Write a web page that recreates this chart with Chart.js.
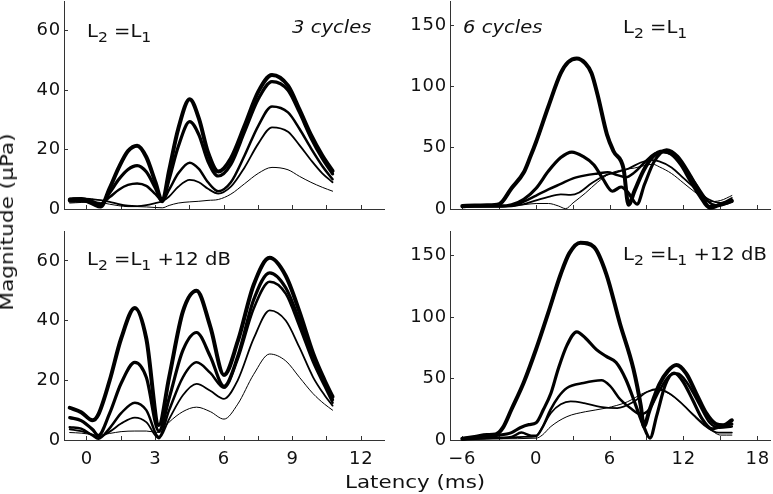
<!DOCTYPE html>
<html>
<head>
<meta charset="utf-8">
<script src="https://cdn.jsdelivr.net/npm/chart.js@4.4.1/dist/chart.umd.min.js"></script>
<style>
  body { margin: 0; background: #fff; }
  #wrap { position: relative; width: 773px; height: 494px; overflow: hidden; }
  canvas { position: absolute; left: 0; top: 0; }
  .t { position: absolute; font-family: 'DejaVu Sans'; color: #111; white-space: nowrap; transform-origin: 0 0; }
  .ann { font-size: 17px; line-height: 17px; transform: scaleX(1.15); }
  .ann sub { font-size: 0.8em; position: relative; top: 0.35em; vertical-align: baseline; }
  .ann i { font-style: italic; }
  .title { font-size: 18px; line-height: 18px; }
</style>
</head>
<body>
<div id="wrap">
  <canvas id="tl" width="773" height="494"></canvas>
  <canvas id="tr" width="773" height="494"></canvas>
  <canvas id="bl" width="773" height="494"></canvas>
  <canvas id="br" width="773" height="494"></canvas>

  <div class="t ann" style="left:87px;top:23px">L<sub>2</sub> =L<sub>1</sub></div>
  <div class="t ann" style="left:292px;top:19px"><i>3 cycles</i></div>
  <div class="t ann" style="left:463px;top:19px"><i>6 cycles</i></div>
  <div class="t ann" style="left:623px;top:19px">L<sub>2</sub> =L<sub>1</sub></div>
  <div class="t ann" style="left:87px;top:251px">L<sub>2</sub> =L<sub>1</sub> +12 dB</div>
  <div class="t ann" style="left:623px;top:246px">L<sub>2</sub> =L<sub>1</sub> +12 dB</div>

  <div class="t title" style="left:345px;top:473px;transform:scaleX(1.19)">Latency (ms)</div>
  <div class="t title" style="left:7px;top:222px;transform-origin:50% 50%;transform:translate(-50%,-50%) rotate(-90deg) scaleX(1.2)">Magnitude (µPa)</div>
</div>

<script>
// series go from the thinnest line (lowest level) to the thickest
const WIDTHS = [1, 1.8, 2.5, 3.2, 4];

// 3 cycles, L2 = L1
const TL_X = [-0.75, -0.25, 0.25, 0.6, 1.0, 1.4, 1.8, 2.2, 2.6, 3.0, 3.3, 3.6, 4.0, 4.5, 4.9, 5.3, 5.75, 6.3, 6.9, 7.5, 8.1, 8.8, 9.3, 9.8, 10.3, 10.75];
const TL_S1 = [2.0, 2.2, 2.4, 2.2, 1.6, 1.1, 0.8, 0.8, 0.7, 0.5, 0.4, 1.2, 2.0, 2.4, 2.6, 2.9, 3.2, 5.0, 8.5, 12.0, 14.0, 13.2, 11.0, 9.0, 7.3, 6.0];
const TL_S2 = [3.5, 3.6, 3.3, 3.0, 2.4, 1.6, 1.1, 1.0, 1.3, 2.0, 2.6, 4.2, 7.5, 9.8, 9.0, 6.8, 5.2, 7.5, 14.0, 22.0, 27.5, 26.0, 21.5, 16.5, 12.0, 9.0];
const TL_S3 = [2.5, 2.6, 2.2, 1.8, 4.0, 6.5, 8.1, 8.6, 7.8, 5.0, 2.8, 6.5, 12.0, 15.6, 13.5, 9.0, 6.0, 9.0, 18.0, 28.0, 34.5, 32.5, 27.0, 20.5, 14.5, 10.0];
const TL_S4 = [3.3, 3.5, 2.5, 1.5, 5.5, 10.0, 13.3, 14.6, 12.5, 7.0, 2.8, 10.0, 21.0, 29.4, 25.0, 16.0, 11.1, 15.0, 26.0, 37.0, 42.9, 40.0, 32.5, 24.0, 17.0, 11.8];
const TL_S5 = [3.0, 3.2, 1.8, 0.8, 7.0, 14.0, 19.5, 21.3, 17.5, 9.0, 2.6, 13.0, 27.0, 36.9, 30.5, 19.0, 12.6, 17.0, 28.0, 39.5, 45.1, 41.5, 33.5, 25.0, 18.0, 12.8];

// 3 cycles, L2 = L1 + 12 dB
const BL_X = [-0.75, -0.25, 0.25, 0.5, 1.0, 1.5, 2.1, 2.6, 3.15, 3.6, 4.2, 4.8, 5.4, 6.0, 6.6, 7.3, 8.0, 8.7, 9.3, 9.9, 10.4, 10.75];
const BL_S1 = [2.5, 2.3, 1.8, 1.6, 2.2, 2.8, 3.0, 3.0, 2.5, 6.0, 9.5, 11.0, 9.5, 7.0, 12.0, 22.0, 28.8, 26.5, 21.0, 15.5, 12.0, 10.0];
const BL_S2 = [3.6, 3.0, 1.8, 1.0, 2.8, 5.5, 7.5, 6.0, 0.5, 7.0, 15.0, 18.8, 16.5, 13.8, 20.0, 34.0, 43.4, 40.0, 31.0, 21.0, 15.0, 11.5];
const BL_S3 = [4.3, 3.8, 1.5, 0.4, 4.0, 9.0, 12.5, 10.0, 1.0, 10.0, 21.0, 26.0, 22.5, 17.5, 27.0, 44.0, 53.0, 49.0, 38.0, 26.0, 18.0, 12.5];
const BL_S4 = [7.5, 6.5, 3.5, 1.5, 9.0, 19.0, 26.0, 21.0, 3.0, 14.0, 30.0, 36.0, 28.0, 18.0, 28.0, 47.0, 56.0, 51.0, 40.0, 27.0, 19.0, 13.5];
const BL_S5 = [10.8, 9.3, 6.6, 8.5, 20.0, 34.0, 44.2, 34.0, 5.0, 21.0, 43.0, 50.0, 38.0, 21.8, 33.0, 52.0, 61.0, 55.0, 43.0, 29.0, 20.0, 14.5];

// 6 cycles, L2 = L1
const TR_X1 = [-6, -4, -2, -1, 0, 1, 1.8, 2.4, 3, 4, 5, 6, 7, 8, 9, 9.5, 10, 11, 12, 13, 14, 15, 15.9];
const TR_Y1 = [2, 2, 2.5, 3.5, 4.5, 4.5, 2.5, 0.3, 5, 13, 22, 29, 32, 33.5, 36, 36.5, 34.5, 29, 21, 13, 6, 7, 11];
const TR_X2 = [-6, -4, -2, -1, 0, 1, 2, 2.8, 3.5, 4.5, 5.5, 6.5, 7.5, 8.5, 9.3, 10, 11, 12, 13, 14, 15, 15.9];
const TR_Y2 = [2, 2.5, 2.5, 4, 7, 10, 12, 11.5, 13.5, 21, 27, 30, 33, 38, 40, 39, 34, 25, 16, 8, 5, 9];
const TR_X3 = [-6, -4, -2, -1, 0, 1, 2, 3, 4, 5, 5.8, 6.5, 7.3, 8, 8.8, 9.6, 10.3, 11, 12, 13, 14, 14.6, 15.3, 15.9];
const TR_Y3 = [2, 2, 2.5, 6, 11, 16, 20.5, 25, 27.5, 29, 30, 28, 26, 30, 38, 45, 47, 44.5, 34, 20, 6, 3, 4, 6];
const TR_X4 = [-6, -5, -4, -3, -2, -1, 0, 1, 2, 2.9, 3.8, 4.7, 5.4, 6.2, 6.9, 7.5, 8.2, 8.8, 9.6, 10.6, 11.5, 12.5, 13.3, 14.1, 14.9, 15.9];
const TR_Y4 = [2, 2.5, 2.5, 2.5, 3.5, 8, 17, 31, 42, 46.5, 43, 36, 25, 14.5, 18, 13, 4, 20, 39, 48.4, 43, 28, 14, 2, 3.5, 7];
const TR_X5 = [-6, -5, -4, -3, -2, -1, -0.5, 0, 1, 2, 2.6, 3.3, 4, 4.5, 5, 5.75, 6.3, 7.1, 7.5, 8, 8.7, 9.5, 10.3, 11, 11.8, 12.5, 13.3, 14.1, 14.8, 15.9];
const TR_Y5 = [2.5, 2.8, 3, 4, 17, 30, 42, 55, 84, 111, 120, 123, 119, 111, 93, 61, 47, 33, 3.5, 15, 31, 43, 47, 45, 36, 24, 11, 1, 3, 6.5];

// 6 cycles, L2 = L1 + 12 dB
const BR_X1 = [-6, -3, 0, 0.5, 1.2, 2.5, 4, 5.7, 7.4, 8.7, 9.8, 10.9, 12, 13, 14, 15, 15.9];
const BR_Y1 = [0.5, 1, 1.5, 4, 11, 19, 23, 26, 31, 38, 41, 37, 28, 19, 10, 4, 4];
const BR_X2 = [-6, -4, -2, -1, 0, 0.6, 1.2, 2, 2.8, 3.9, 5.2, 6.6, 7.9, 9, 9.9, 10.8, 11.8, 12.8, 13.8, 14.8, 15.9];
const BR_Y2 = [0.5, 1.5, 2, 2.5, 3, 12, 22, 29, 31.4, 30, 27, 26, 31, 39, 41.5, 38, 30, 20, 11, 6, 6];
const BR_X3 = [-6, -4, -2, -1.2, -0.4, 0, 0.5, 1.16, 1.8, 2.5, 3.85, 5.3, 6, 6.83, 7.65, 8.5, 9.2, 10, 10.8, 11.5, 12.3, 13.2, 14.1, 14.9, 15.9];
const BR_Y3 = [0.5, 1.5, 2.5, 6, 3.5, 3.5, 10, 24.5, 35, 42.3, 46.4, 48.5, 44, 33, 26, 21, 25, 40, 52, 54, 46, 30, 14, 10, 11];
const BR_X4 = [-6, -5, -4, -3, -2, -1.3, -0.6, 0, 0.6, 1.2, 1.8, 2.5, 3.3, 4, 4.9, 5.7, 6.5, 7.3, 8.1, 8.7, 9.25, 9.8, 10.5, 11.2, 11.9, 12.7, 13.5, 14.3, 15, 15.9];
const BR_Y4 = [1, 2, 3.5, 4, 6, 10, 12.5, 14, 25, 38, 58, 77, 88, 83, 73.5, 68, 63, 49, 28, 12, 1.5, 20, 45, 54.5, 48, 33, 17, 9, 11, 13];
const BR_X5 = [-6, -5, -4, -3.3, -2.7, -2, -1, 0, 1, 2, 2.7, 3.6, 4.7, 5.7, 6.8, 7.9, 8.5, 8.75, 9.2, 10, 10.7, 11.4, 12.2, 13, 13.8, 14.6, 15.2, 15.9];
const BR_Y5 = [1, 2.5, 4, 4.5, 10, 25, 47, 74, 104, 135, 152, 160.5, 157, 135, 95, 58, 28, 11, 24, 45, 56, 61, 54, 38, 22, 13, 12, 16];

// axes
const X_TICKS_3 = [0, 1.5, 3, 4.5, 6, 7.5, 9, 10.5, 12];
const X_TICKS_6 = [-6, -3, 0, 3, 6, 9, 12, 15, 18];
const Y_TICKS_3 = [0, 20, 40, 60];
const Y_TICKS_6 = [0, 50, 100, 150];

Chart.defaults.font.family = 'DejaVu Sans';
Chart.defaults.font.size = 18;
Chart.defaults.color = '#111';

// the reference glyphs are a little wider than DejaVu, open them up slightly
const spacing = {
  id: 'spacing',
  beforeDraw(chart) { chart.ctx.letterSpacing = '0.8px'; }
};

function series(xs, ys, i) {
  return {
    data: xs.map((x, k) => ({ x: x, y: ys[k] })),
    borderWidth: WIDTHS[i],
    clip: false
  };
}

function fmt(v) {
  return v < 0 ? '\u2212' + (-v) : String(v);
}

function makePanel(id, datasets, area, xRange, xTicks, labelEvery, yMax, yTicks, showX) {
  new Chart(document.getElementById(id), {
    type: 'line',
    data: { datasets: datasets },
    options: {
      responsive: false,
      animation: false,
      events: [],
      layout: {
        autoPadding: false,
        padding: { left: area.left - 40, top: area.top, right: 773 - area.right, bottom: 494 - area.bottom - 30 }
      },
      plugins: { legend: { display: false }, tooltip: { enabled: false } },
      elements: {
        point: { radius: 0 },
        line: { cubicInterpolationMode: 'monotone', borderColor: '#000', borderJoinStyle: 'round', borderCapStyle: 'round', fill: false }
      },
      scales: {
        x: {
          type: 'linear',
          min: xRange[0],
          max: xRange[1],
          afterBuildTicks: s => { s.ticks = xTicks.map(v => ({ value: v })); },
          afterFit: s => { s.height = 30; s.paddingLeft = 0; s.paddingRight = 0; },
          grid: { drawOnChartArea: false, tickLength: -4, color: '#333', lineWidth: 1 },
          border: { color: '#333', width: 1 },
          ticks: {
            display: showX,
            padding: 13,
            autoSkip: false,
            maxRotation: 0,
            callback: v => (v % labelEvery === 0 ? fmt(v) : '')
          }
        },
        y: {
          type: 'linear',
          min: 0,
          max: yMax,
          afterBuildTicks: s => { s.ticks = yTicks.map(v => ({ value: v })); },
          afterFit: s => { s.width = 40; s.paddingTop = 0; s.paddingBottom = 0; },
          grid: { drawOnChartArea: false, tickLength: -4, color: '#333', lineWidth: 1 },
          border: { color: '#333', width: 1 },
          ticks: { padding: 7, autoSkip: false, callback: v => fmt(v) }
        }
      }
    },
    plugins: [spacing]
  });
}

makePanel('tl',
  [TL_S1, TL_S2, TL_S3, TL_S4, TL_S5].map((ys, i) => series(TL_X, ys, i)),
  { left: 64, top: 1, right: 384, bottom: 209 }, [-1, 13], X_TICKS_3, 3, 70, Y_TICKS_3, false);

makePanel('bl',
  [BL_S1, BL_S2, BL_S3, BL_S4, BL_S5].map((ys, i) => series(BL_X, ys, i)),
  { left: 64, top: 231, right: 384, bottom: 440 }, [-1, 13], X_TICKS_3, 3, 70, Y_TICKS_3, true);

makePanel('tr',
  [[TR_X1, TR_Y1], [TR_X2, TR_Y2], [TR_X3, TR_Y3], [TR_X4, TR_Y4], [TR_X5, TR_Y5]].map((p, i) => series(p[0], p[1], i)),
  { left: 450, top: 1, right: 770, bottom: 209 }, [-7, 19], X_TICKS_6, 6, 170, Y_TICKS_6, false);

makePanel('br',
  [[BR_X1, BR_Y1], [BR_X2, BR_Y2], [BR_X3, BR_Y3], [BR_X4, BR_Y4], [BR_X5, BR_Y5]].map((p, i) => series(p[0], p[1], i)),
  { left: 450, top: 231, right: 770, bottom: 440 }, [-7, 19], X_TICKS_6, 6, 170, Y_TICKS_6, true);
</script>
</body>
</html>
